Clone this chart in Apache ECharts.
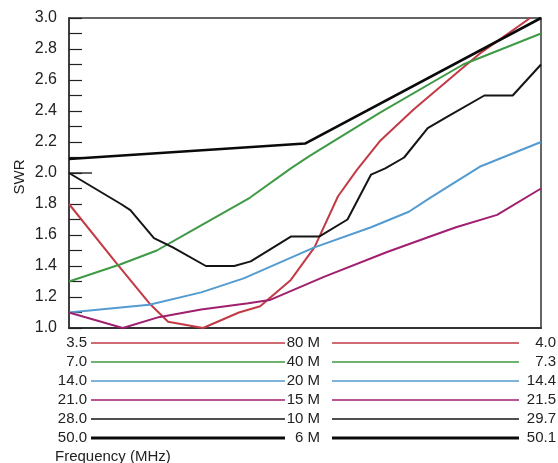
<!DOCTYPE html>
<html>
<head>
<meta charset="utf-8">
<script src="https://cdn.jsdelivr.net/npm/echarts@6/dist/echarts.min.js"></script>
<style>
html,body{margin:0;padding:0;background:#fff;}
#chart{width:558px;height:463px;}
</style>
</head>
<body>
<div id="chart"></div>
<script>
// Band position across each band (0 = band start, 100 = band end) and SWR values
const bands = ['80 M', '40 M', '20 M', '15 M', '10 M', '6 M'];
const bandStart = ['3.5', '7.0', '14.0', '21.0', '28.0', '50.0'];
const bandEnd = ['4.0', '7.3', '14.4', '21.5', '29.7', '50.1'];
const bandColors = ['#c23a45', '#3f9a45', '#539bd0', '#a01f6e', '#151515', '#0a0a0a'];
const bandWidths = [2, 2, 2, 2, 2, 2.6];

const swr80 = [[0,1.8],[10,1.42],[17,1.16],[21,1.04],[28.4,1.0],[36,1.1],[40.5,1.14],[47,1.31],[52,1.52],[57,1.85],[61,2.02],[66,2.21],[73,2.41],[83.5,2.68],[87,2.77],[97.7,3.0]];
const swr40 = [[0,1.3],[10.8,1.41],[18.6,1.5],[25,1.61],[38.3,1.84],[47,2.03],[51,2.11],[65.9,2.39],[83.5,2.7],[100,2.9]];
const swr20 = [[0,1.1],[17,1.15],[28,1.23],[37,1.32],[52,1.52],[64,1.65],[72,1.75],[76.5,1.84],[87,2.04],[100,2.2]];
const swr15 = [[0,1.1],[11.4,1.0],[19,1.07],[28,1.12],[38,1.16],[42.5,1.18],[54,1.33],[67.4,1.49],[76.5,1.59],[82,1.65],[90.7,1.73],[100,1.9]];
const swr10 = [[0,2.0],[11,1.8],[13,1.76],[18,1.58],[22,1.52],[29,1.4],[35,1.4],[38.5,1.43],[47,1.59],[53,1.59],[59,1.7],[64,1.99],[67,2.03],[71,2.1],[76,2.29],[80,2.36],[88,2.5],[94,2.5],[100,2.7]];
const swr6 = [[0,2.09],[50,2.19],[100,3.0]];
const seriesData = [swr80, swr40, swr20, swr15, swr10, swr6];

const yTicks = ['1.0','1.2','1.4','1.6','1.8','2.0','2.2','2.4','2.6','2.8','3.0'];

const chart = echarts.init(document.getElementById('chart'), null, {renderer: 'canvas'});
const FONT = 'Liberation Sans, Arial, sans-serif';
const TXT = '#222';

chart.setOption({
  animation: false,
  backgroundColor: '#fff',
  grid: {left: 69, right: 17, top: 18, bottom: 135, show: true, borderColor: '#333', borderWidth: 1.5},
  xAxis: {
    type: 'value', min: 0, max: 100,
    axisLine: {show: true, lineStyle: {color: '#333', width: 2}},
    axisTick: {show: false}, axisLabel: {show: false}, splitLine: {show: false}
  },
  yAxis: {
    type: 'value', min: 1, max: 3, interval: 0.1,
    axisLine: {show: true, lineStyle: {color: '#333', width: 1.5}},
    axisTick: {show: true, inside: true, length: 13, lineStyle: {color: '#222', width: 1.2}},
    axisLabel: {
      margin: 12, color: TXT, fontSize: 16, fontFamily: FONT,
      formatter: v => { const s = v.toFixed(1); return yTicks.indexOf(s) >= 0 ? s : ''; }
    },
    splitLine: {show: false}
  },
  series: seriesData.map((d, i) => ({
    type: 'line', name: bands[i], data: d, showSymbol: false, symbol: 'none',
    lineStyle: {color: bandColors[i], width: bandWidths[i]}, z: 3 + i,
    clip: true
  }))
});

const graphics = [];
// SWR axis name
graphics.push({type:'text', x:20, y:177, rotation:Math.PI/2, style:{text:'SWR', font:'15px ' + FONT, fill:TXT, textAlign:'center', textVerticalAlign:'middle'}});
// longer tick at SWR 2.0
const p0 = chart.convertToPixel({gridIndex:0}, [0, 2.0]);
graphics.push({type:'line', shape:{x1:p0[0], y1:p0[1], x2:p0[0] + 23, y2:p0[1]}, style:{stroke:'#222', lineWidth:1.4}});
// bottom table
const rowY0 = 343, rowDy = 19;
bands.forEach((b, i) => {
  const y = rowY0 + i * rowDy;
  graphics.push({type:'text', x:87, y:y, style:{text:bandStart[i], font:'15px ' + FONT, fill:TXT, textAlign:'right', textVerticalAlign:'middle'}});
  graphics.push({type:'line', shape:{x1:91, y1:y, x2:285, y2:y}, style:{stroke:bandColors[i], lineWidth: i===5 ? 3 : 1.5}});
  graphics.push({type:'text', x:320, y:y, style:{text:b, font:'15px ' + FONT, fill:TXT, textAlign:'right', textVerticalAlign:'middle'}});
  graphics.push({type:'line', shape:{x1:332, y1:y, x2:519, y2:y}, style:{stroke:bandColors[i], lineWidth: i===5 ? 3 : 1.5}});
  graphics.push({type:'text', x:556, y:y, style:{text:bandEnd[i], font:'15px ' + FONT, fill:TXT, textAlign:'right', textVerticalAlign:'middle'}});
});
graphics.push({type:'text', x:55, y:457, style:{text:'Frequency (MHz)', font:'15px ' + FONT, fill:TXT, textAlign:'left', textVerticalAlign:'middle'}});
chart.setOption({graphic: graphics});
</script>
</body>
</html>
